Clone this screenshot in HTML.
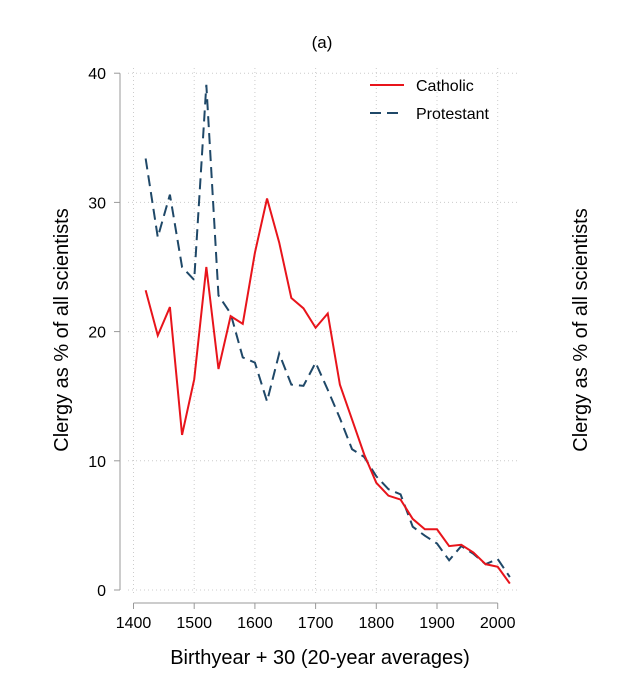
<!DOCTYPE html>
<html><head><meta charset="utf-8"><style>
body{margin:0;background:#fff;}
svg text{font-family:"Liberation Sans",Arial,sans-serif;fill:#000;}
</style></head><body>
<svg width="629" height="676" xmlns="http://www.w3.org/2000/svg">
<rect width="629" height="676" fill="#fff"/>
<g id="grid"></g><g id="axes"></g><g id="series"></g>
<text x="322" y="48" font-size="17" text-anchor="middle">(a)</text>
<text transform="translate(68,330) rotate(-90)" font-size="20" text-anchor="middle">Clergy as % of all scientists</text>
<text transform="translate(587,330) rotate(-90)" font-size="20" text-anchor="middle">Clergy as % of all scientists</text>
<text x="320" y="664" font-size="20" text-anchor="middle">Birthyear + 30 (20-year averages)</text>
<g>
<line x1="370" y1="85" x2="404" y2="85" stroke="#e8141b" stroke-width="2"/>
<text x="416" y="91" font-size="16">Catholic</text>
<line x1="370" y1="113" x2="404" y2="113" stroke="#1f4868" stroke-width="2" stroke-dasharray="11,6"/>
<text x="416" y="119" font-size="16">Protestant</text>
</g>
</svg>
<script>
const years=[1420,1440,1460,1480,1500,1520,1540,1560,1580,1600,1620,1640,1660,1680,1700,1720,1740,1760,1780,1800,1820,1840,1860,1880,1900,1920,1940,1960,1980,2000,2020];
const catholic=[23.2,19.7,21.9,12.0,16.3,25.0,17.1,21.2,20.6,26.1,30.3,26.9,22.6,21.8,20.3,21.4,15.9,13.2,10.5,8.3,7.3,7.0,5.5,4.7,4.7,3.4,3.5,2.9,2.0,1.8,0.5];
const protestant=[33.4,27.3,30.6,25.0,24.0,39.1,22.8,21.4,18.0,17.6,14.6,18.3,15.9,15.8,17.6,15.5,13.3,10.9,10.3,8.8,7.8,7.4,4.9,4.2,3.6,2.3,3.4,2.8,2.0,2.4,1.0];
const xTicks=[1400,1500,1600,1700,1800,1900,2000];
const yTicks=[0,10,20,30,40];
const NS="http://www.w3.org/2000/svg";
const X=v=>133.5+(v-1400)*0.607;
const Y=v=>590-v*12.92;
function mk(p,t,a){const e=document.createElementNS(NS,t);for(const k in a)e.setAttribute(k,a[k]);p.appendChild(e);return e;}
const grid=document.getElementById('grid'),axes=document.getElementById('axes'),ser=document.getElementById('series');
yTicks.forEach(t=>{
 const g=mk(grid,'line',{x1:128,x2:520,y1:Y(t),y2:Y(t),stroke:'#ccc','stroke-width':1,'stroke-dasharray':'1,3'});
 
 
 const tk=mk(axes,'line',{x1:114,x2:120,y1:Y(t),y2:Y(t),stroke:'#999'});
 
 
 const tx=mk(axes,'text',{x:106,y:Y(t)+6,'font-size':16,'text-anchor':'end'});tx.textContent=t;
 
 
});
xTicks.forEach(t=>{
 const g=mk(grid,'line',{x1:X(t),x2:X(t),y1:68,y2:596,stroke:'#ccc','stroke-width':1,'stroke-dasharray':'1,3'});
 
 
 const tk=mk(axes,'line',{x1:X(t),x2:X(t),y1:603,y2:609,stroke:'#999'});
 
 
 const tx=mk(axes,'text',{x:X(t),y:628,'font-size':16,'text-anchor':'middle'});tx.textContent=t;
 
 
});
const ya=mk(axes,'line',{x1:120,x2:120,y1:Y(40),y2:Y(0),stroke:'#999'});


const xa=mk(axes,'line',{x1:X(1400),x2:X(2000),y1:603,y2:603,stroke:'#999'});


const pts=a=>a.map((v,i)=>X(years[i])+','+Y(v)).join(' ');
const pl=mk(ser,'polyline',{points:pts(protestant),fill:'none',stroke:'#1f4868','stroke-width':2,'stroke-dasharray':'11,6'});


const cl=mk(ser,'polyline',{points:pts(catholic),fill:'none',stroke:'#e8141b','stroke-width':2});


</script>
</body></html>
